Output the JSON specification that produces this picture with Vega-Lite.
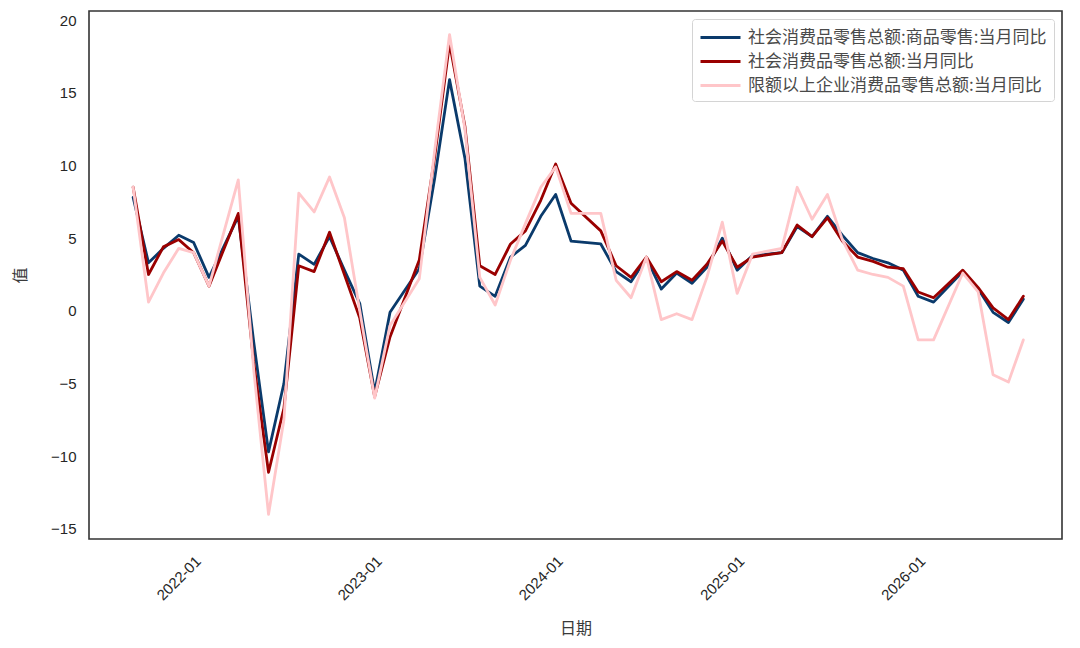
{
  "$schema": "https://vega.github.io/schema/vega-lite/v6.json",
  "width": 973,
  "height": 528,
  "autosize": {"type": "none"},
  "padding": {"left": 89, "top": 11, "right": 18, "bottom": 109},
  "background": "white",
  "data": {
    "values": [
      {"date": "2021-07-31", "goods": 7.8, "total": 8.5, "above": 8.5},
      {"date": "2021-08-31", "goods": 3.3, "total": 2.5, "above": 0.6},
      {"date": "2021-09-30", "goods": 4.3, "total": 4.4, "above": 2.6},
      {"date": "2021-10-31", "goods": 5.2, "total": 4.9, "above": 4.3},
      {"date": "2021-11-30", "goods": 4.7, "total": 4.0, "above": 4.0},
      {"date": "2021-12-31", "goods": 2.3, "total": 1.7, "above": 1.7},
      {"date": "2022-02-28", "goods": 6.5, "total": 6.7, "above": 9.0},
      {"date": "2022-03-31", "goods": -2.1, "total": -3.5, "above": -4.0},
      {"date": "2022-04-30", "goods": -9.7, "total": -11.1, "above": -14.0},
      {"date": "2022-05-31", "goods": -5.0, "total": -6.7, "above": -7.5},
      {"date": "2022-06-30", "goods": 3.9, "total": 3.1, "above": 8.1},
      {"date": "2022-07-31", "goods": 3.2, "total": 2.7, "above": 6.8},
      {"date": "2022-08-31", "goods": 5.1, "total": 5.4, "above": 9.2},
      {"date": "2022-09-30", "goods": 2.8, "total": 2.5, "above": 6.4},
      {"date": "2022-10-31", "goods": 0.5, "total": -0.5, "above": 0.0},
      {"date": "2022-11-30", "goods": -5.6, "total": -5.9, "above": -6.0},
      {"date": "2022-12-31", "goods": -0.1, "total": -1.8, "above": -1.0},
      {"date": "2023-02-28", "goods": 2.9, "total": 3.5, "above": 2.2},
      {"date": "2023-03-31", "goods": 9.1, "total": 10.6, "above": 11.0},
      {"date": "2023-04-30", "goods": 15.9, "total": 18.4, "above": 19.0},
      {"date": "2023-05-31", "goods": 10.5, "total": 12.7, "above": 12.5},
      {"date": "2023-06-30", "goods": 1.7, "total": 3.1, "above": 2.3},
      {"date": "2023-07-31", "goods": 1.0, "total": 2.5, "above": 0.4},
      {"date": "2023-08-31", "goods": 3.7, "total": 4.6, "above": 3.5},
      {"date": "2023-09-30", "goods": 4.5, "total": 5.5, "above": 6.0},
      {"date": "2023-10-31", "goods": 6.5, "total": 7.6, "above": 8.5},
      {"date": "2023-11-30", "goods": 8.0, "total": 10.1, "above": 9.9},
      {"date": "2023-12-31", "goods": 4.8, "total": 7.4, "above": 6.7},
      {"date": "2024-02-29", "goods": 4.6, "total": 5.5, "above": 6.7},
      {"date": "2024-03-31", "goods": 2.7, "total": 3.1, "above": 2.1},
      {"date": "2024-04-30", "goods": 2.0, "total": 2.3, "above": 0.9},
      {"date": "2024-05-31", "goods": 3.6, "total": 3.7, "above": 3.7},
      {"date": "2024-06-30", "goods": 1.5, "total": 2.0, "above": -0.6},
      {"date": "2024-07-31", "goods": 2.6, "total": 2.7, "above": -0.2},
      {"date": "2024-08-31", "goods": 1.9, "total": 2.1, "above": -0.6},
      {"date": "2024-09-30", "goods": 3.0, "total": 3.2, "above": 2.3},
      {"date": "2024-10-31", "goods": 5.0, "total": 4.8, "above": 6.1},
      {"date": "2024-11-30", "goods": 2.8, "total": 3.0, "above": 1.2},
      {"date": "2024-12-31", "goods": 3.8, "total": 3.7, "above": 3.9},
      {"date": "2025-02-28", "goods": 4.0, "total": 4.0, "above": 4.3},
      {"date": "2025-03-31", "goods": 5.8, "total": 5.9, "above": 8.5},
      {"date": "2025-04-30", "goods": 5.1, "total": 5.1, "above": 6.3},
      {"date": "2025-05-31", "goods": 6.5, "total": 6.4, "above": 8.0},
      {"date": "2025-06-30", "goods": 5.2, "total": 4.8, "above": 4.9},
      {"date": "2025-07-31", "goods": 4.0, "total": 3.7, "above": 2.8},
      {"date": "2025-08-31", "goods": 3.6, "total": 3.4, "above": 2.5},
      {"date": "2025-09-30", "goods": 3.3, "total": 3.0, "above": 2.3},
      {"date": "2025-10-31", "goods": 2.8, "total": 2.9, "above": 1.7},
      {"date": "2025-11-30", "goods": 1.0, "total": 1.3, "above": -2.0},
      {"date": "2025-12-31", "goods": 0.6, "total": 0.9, "above": -2.0},
      {"date": "2026-02-28", "goods": 2.7, "total": 2.8, "above": 2.6},
      {"date": "2026-03-31", "goods": 1.5, "total": 1.6, "above": 1.3},
      {"date": "2026-04-30", "goods": -0.1, "total": 0.2, "above": -4.4},
      {"date": "2026-05-31", "goods": -0.8, "total": -0.6, "above": -4.9},
      {"date": "2026-06-30", "goods": 0.8, "total": 1.0, "above": -2.0}
    ]
  },
  "transform": [{"fold": ["goods", "total", "above"], "as": ["series", "value"]}],
  "mark": {"type": "line", "strokeWidth": 2.8, "strokeJoin": "round", "strokeCap": "round"},
  "encoding": {
    "x": {
      "field": "date",
      "type": "temporal",
      "title": "日期",
      "scale": {
        "type": "utc",
        "domain": [
          {"year": 2021, "month": 5, "date": 3, "utc": true},
          {"year": 2026, "month": 9, "date": 16, "utc": true}
        ]
      },
      "axis": {
        "values": [
          {"year": 2022, "month": 1, "date": 1, "utc": true},
          {"year": 2023, "month": 1, "date": 1, "utc": true},
          {"year": 2024, "month": 1, "date": 1, "utc": true},
          {"year": 2025, "month": 1, "date": 1, "utc": true},
          {"year": 2026, "month": 1, "date": 1, "utc": true}
        ],
        "labelExpr": "utcFormat(datum.value, '%Y-%m')",
        "labelAngle": -45,
        "labelAlign": "right",
        "labelBaseline": "bottom",
        "labelPadding": 25,
        "labelOffset": -6,
        "titlePadding": 18
      }
    },
    "y": {
      "field": "value",
      "type": "quantitative",
      "title": "值",
      "scale": {"domain": [-15.69, 20.62], "nice": false, "zero": false},
      "axis": {"values": [-15, -10, -5, 0, 5, 10, 15, 20], "labelPadding": 13, "titlePadding": 22}
    },
    "color": {
      "field": "series",
      "type": "nominal",
      "sort": ["goods", "total", "above"],
      "scale": {"domain": ["goods", "total", "above"], "range": ["#0a3a6b", "#9a0000", "#ffc6c9"]},
      "legend": {
        "title": null,
        "orient": "top-right",
        "offset": 8,
        "fillColor": "white",
        "strokeColor": "#d4d4d4",
        "cornerRadius": 3,
        "padding": 7,
        "symbolType": "M-2,0H2",
        "symbolSize": 400,
        "symbolStrokeWidth": 3,
        "symbolOffset": 10,
        "labelOffset": 16,
        "rowPadding": 4,
        "labelFont": "Noto Sans CJK SC",
        "labelFontSize": 17,
        "labelColor": "#4a4a4a",
        "labelLimit": 0,
        "labelExpr": "datum.label == 'goods' ? '社会消费品零售总额:商品零售:当月同比' : datum.label == 'total' ? '社会消费品零售总额:当月同比' : '限额以上企业消费品零售总额:当月同比'"
      }
    }
  },
  "config": {
    "view": {"stroke": "#333333", "strokeWidth": 1.6},
    "axis": {
      "grid": false,
      "domain": false,
      "ticks": false,
      "labelFont": "Liberation Sans",
      "labelFontSize": 15,
      "labelColor": "#262626",
      "titleFont": "Noto Sans CJK SC",
      "titleFontSize": 16,
      "titleFontWeight": "normal",
      "titleColor": "#3a3a3a"
    }
  }
}
